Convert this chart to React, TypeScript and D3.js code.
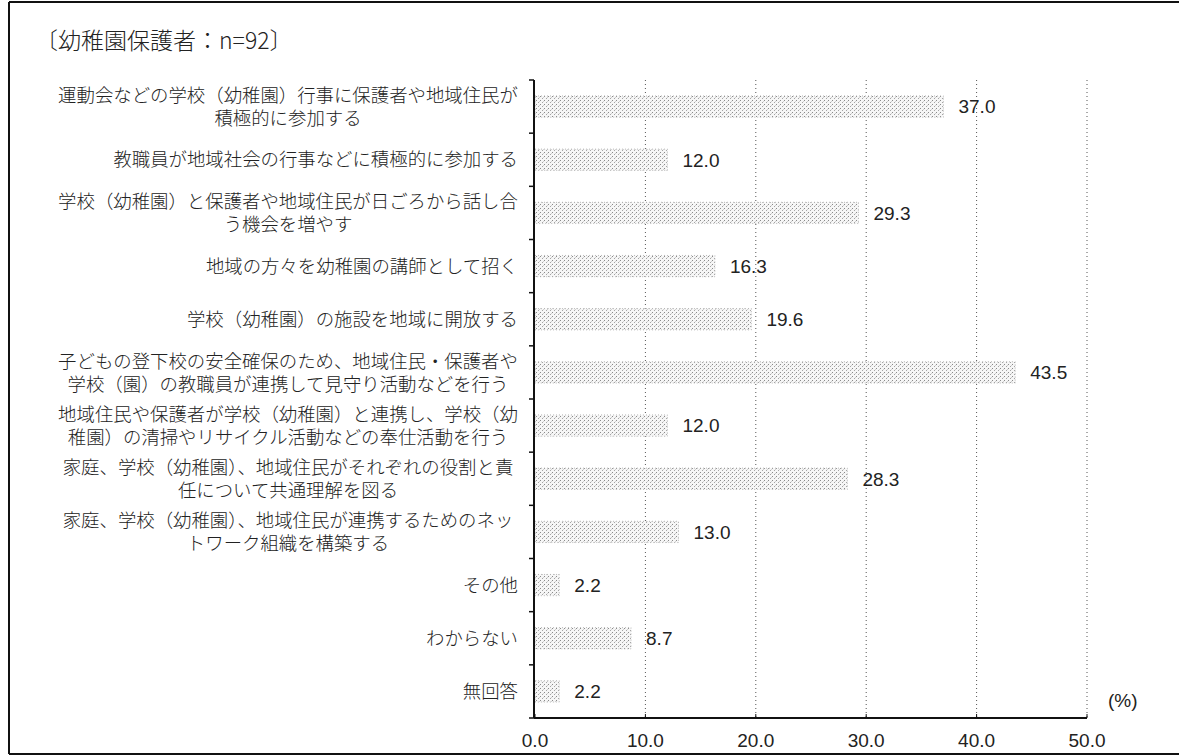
import React from "react";
import * as d3 from "d3";

const title = "〔幼稚園保護者：n=92〕";
const categories: string[][] = [
  ["運動会などの学校（幼稚園）行事に保護者や地域住民が", "積極的に参加する"],
  ["教職員が地域社会の行事などに積極的に参加する"],
  ["学校（幼稚園）と保護者や地域住民が日ごろから話し合", "う機会を増やす"],
  ["地域の方々を幼稚園の講師として招く"],
  ["学校（幼稚園）の施設を地域に開放する"],
  ["子どもの登下校の安全確保のため、地域住民・保護者や", "学校（園）の教職員が連携して見守り活動などを行う"],
  ["地域住民や保護者が学校（幼稚園）と連携し、学校（幼", "稚園）の清掃やリサイクル活動などの奉仕活動を行う"],
  ["家庭、学校（幼稚園）、地域住民がそれぞれの役割と責", "任について共通理解を図る"],
  ["家庭、学校（幼稚園）、地域住民が連携するためのネッ", "トワーク組織を構築する"],
  ["その他"],
  ["わからない"],
  ["無回答"],
];
const values: number[] = [37.0, 12.0, 29.3, 16.3, 19.6, 43.5, 12.0, 28.3, 13.0, 2.2, 8.7, 2.2];
const xTicks: number[] = [0, 10, 20, 30, 40, 50];
const unitLabel = "(%)";

const W = 1179;
const H = 756;
const plotLeft = 534;
const plotRight = 1087;
const plotTop = 80;
const plotBottom = 718;
const labelRight = 518;
const catFont = 18.4;
const jp = "'Noto Sans CJK JP', 'Noto Sans', sans-serif";
const num = "'Liberation Sans', Arial, sans-serif";

export default function App() {
  const ids = categories.map((_, i) => String(i));
  const x = d3.scaleLinear().domain([0, 50]).range([plotLeft + 1, plotRight]);
  const y = d3
    .scaleBand<string>()
    .domain(ids)
    .range([plotTop, plotBottom])
    .paddingInner(0.6)
    .paddingOuter(0.3);
  const fmt = d3.format(".1f");
  const step = y.step();
  const boundaries = d3.range(categories.length + 1).map((i) => plotTop + i * step);

  return (
    <svg
      width={W}
      height={H}
      style={{ position: "absolute", left: 0, top: 0, background: "#fff" }}
    >
      <defs>
        <pattern id="stipple" width="4" height="4" patternUnits="userSpaceOnUse">
          <rect width="4" height="4" fill="#f6f6f6" />
          <rect x="0" y="0" width="1" height="1" fill="#8a8a8a" />
          <rect x="2" y="2" width="1" height="1" fill="#a5a5a5" />
          <rect x="3" y="1" width="1" height="1" fill="#d0d0d0" />
        </pattern>
      </defs>

      {/* frame */}
      <line x1={9} x2={W} y1={2} y2={2} stroke="#111" strokeWidth={2} />
      <line x1={9} x2={9} y1={2} y2={754} stroke="#111" strokeWidth={2} />
      <line x1={9} x2={W} y1={754} y2={754} stroke="#111" strokeWidth={2} />

      {/* title */}
      <text x={35} y={49} fontFamily={jp} fontSize={23} fontWeight={300} fill="#222">
        {title}
      </text>

      {/* gridlines */}
      {xTicks.slice(1).map((t) => (
        <line
          key={"g" + t}
          x1={x(t)}
          x2={x(t)}
          y1={plotTop}
          y2={plotBottom}
          stroke="#555"
          strokeWidth={1}
          strokeDasharray="1 3"
        />
      ))}

      {/* bars */}
      {values.map((v, i) => (
        <g key={"b" + i}>
          <rect
            x={x(0)}
            y={y(ids[i])!}
            width={x(v) - x(0)}
            height={y.bandwidth()}
            fill="url(#stipple)"
            stroke="#aaa"
            strokeWidth={0.8}
            strokeDasharray="1 2"
          />
          <text
            x={x(v) + 15}
            y={y(ids[i])! + y.bandwidth() / 2}
            dy="0.36em"
            fontFamily={num}
            fontSize={19}
            fill="#222"
          >
            {fmt(v)}
          </text>
        </g>
      ))}

      {/* category labels */}
      {categories.map((lines, i) => {
        const cy = y(ids[i])! + y.bandwidth() / 2;
        const maxLen = d3.max(lines, (l) => [...l].length)!;
        const single = lines.length === 1;
        const cx = single ? labelRight : labelRight - (maxLen * catFont) / 2;
        const lh = 23;
        return (
          <text
            key={"c" + i}
            textAnchor={single ? "end" : "middle"}
            fontFamily={jp}
            fontSize={catFont}
            fontWeight={300}
            fill="#222"
          >
            {lines.map((l, j) => (
              <tspan
                key={j}
                x={cx}
                y={cy + (j - (lines.length - 1) / 2) * lh}
                dy="0.36em"
              >
                {l}
              </tspan>
            ))}
          </text>
        );
      })}

      {/* y axis */}
      <line x1={plotLeft} x2={plotLeft} y1={plotTop} y2={plotBottom} stroke="#111" strokeWidth={2} />
      {boundaries.map((b, i) => (
        <line key={"yt" + i} x1={plotLeft - 5} x2={plotLeft} y1={b} y2={b} stroke="#111" strokeWidth={1.5} />
      ))}

      {/* x axis */}
      <line x1={plotLeft} x2={plotRight} y1={plotBottom} y2={plotBottom} stroke="#111" strokeWidth={2} />
      {xTicks.map((t) => (
        <g key={"xt" + t}>
          <line x1={x(t)} x2={x(t)} y1={plotBottom - 4} y2={plotBottom} stroke="#111" strokeWidth={1} />
          <text
            x={x(t)}
            y={plotBottom + 22}
            dy="0.36em"
            textAnchor="middle"
            fontFamily={num}
            fontSize={19}
            fill="#222"
          >
            {fmt(t)}
          </text>
        </g>
      ))}
      <text x={1108} y={700} dy="0.36em" fontFamily={num} fontSize={19} fill="#222">
        {unitLabel}
      </text>
    </svg>
  );
}
